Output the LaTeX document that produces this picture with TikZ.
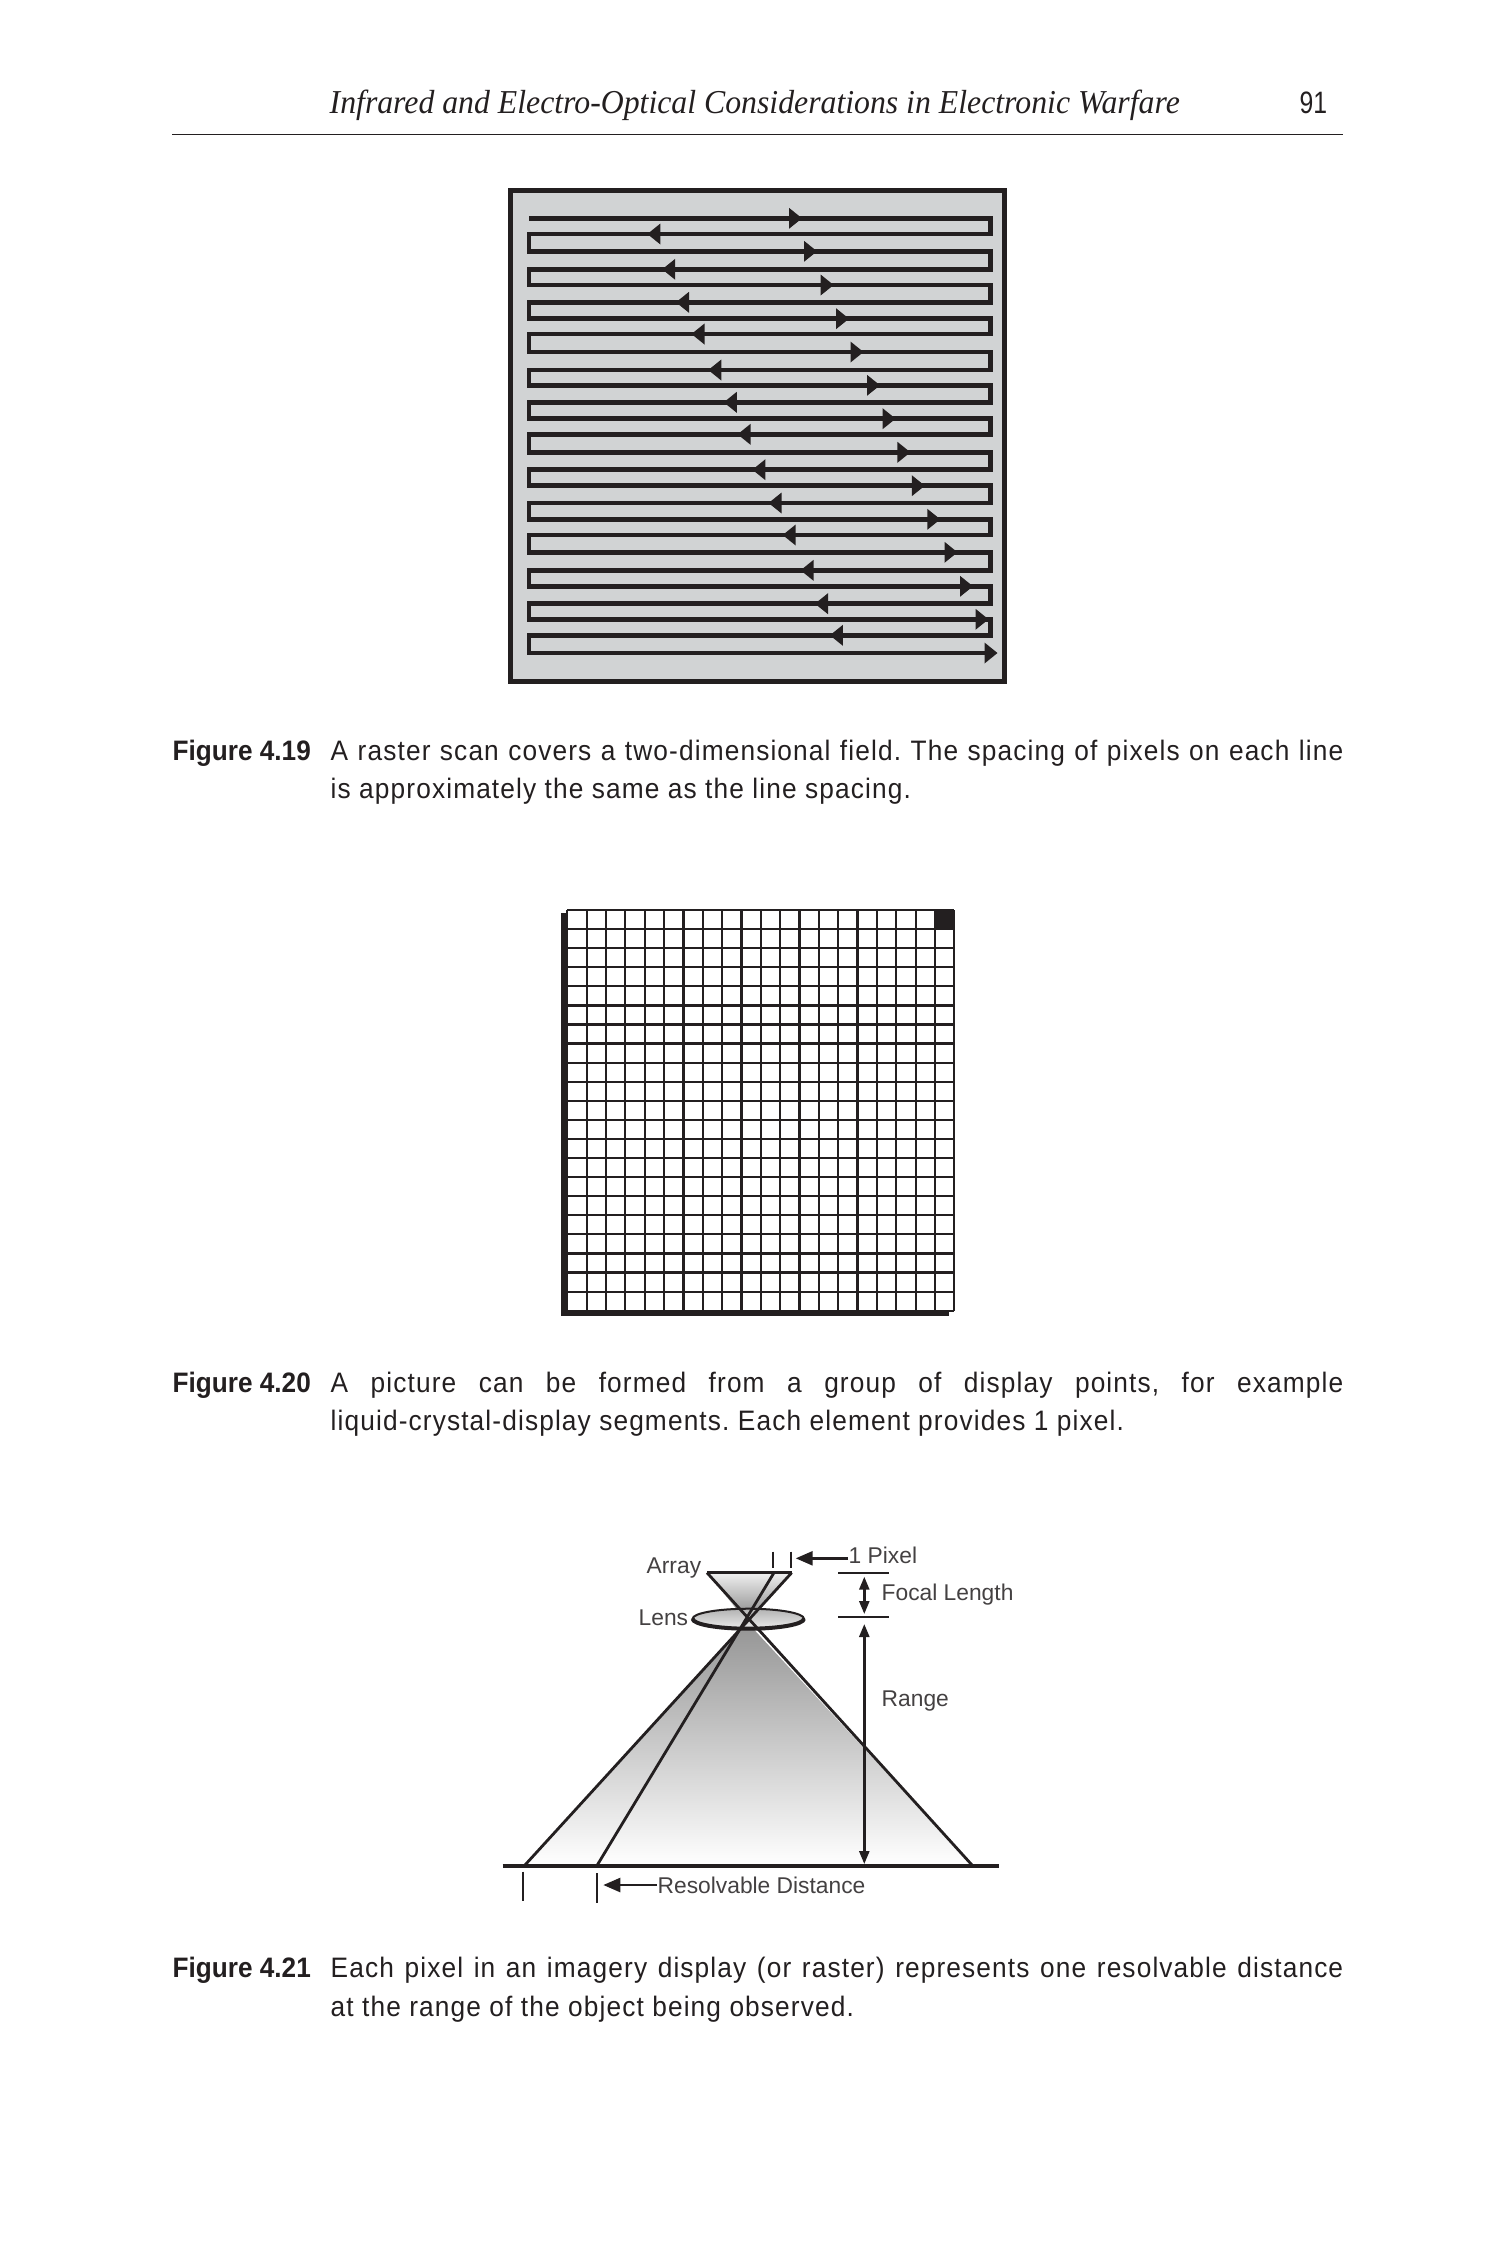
\documentclass[tikz,border=0pt]{standalone}
\usepackage{fontspec}
\usepackage{xcolor}
\usetikzlibrary{arrows.meta}
\usetikzlibrary{positioning}
\newfontfamily\capfont[FakeStretch=0.934,LetterSpace=4]{Liberation Sans}
\newfontfamily\capboldfont[FakeStretch=0.93]{Liberation Sans}
\newfontfamily\numfont[FakeStretch=0.8]{Liberation Sans}
\newfontfamily\headfont[FakeStretch=0.951]{Liberation Serif}
\newfontfamily\labelfont{Liberation Sans}
\definecolor{inkcol}{HTML}{231F20}
\definecolor{panelcol}{HTML}{D1D3D4}
\tikzset{
  caphead/.style={anchor=base west, inner sep=0pt, text=inkcol, font=\capboldfont\bfseries\fontsize{8}{10}\selectfont},
  captext/.style={anchor=base west, inner sep=0pt, text=inkcol, font=\capfont\frenchspacing\fontsize{8}{10}\selectfont},
  figlabel/.style={anchor=base west, inner sep=0pt, text=inkcol!85, font=\labelfont\fontsize{6.48}{8}\selectfont},
  scanline/.style={draw=inkcol, line width=0.045cm},
  rayline/.style={draw=inkcol, line width=0.028cm},
  dimarrow/.style={draw=inkcol, line width=0.025cm, -{Triangle[length=0.13cm,width=0.1cm]}},
  leadarrow/.style={draw=inkcol, line width=0.025cm, -{Triangle[length=0.17cm,width=0.14cm]}}
}
\newcommand{\capwidth}{10.12cm}
\begin{document}
\begin{tikzpicture}[x=0.01cm,y=-0.01cm]
\useasboundingbox (0,0) rectangle (1500,2250);
% running head
\node[inner sep=0pt, anchor=base west, text=inkcol, font=\headfont\itshape\fontsize{9.5}{11}\selectfont] (head) at (329,113) {Infrared and Electro-Optical Considerations in Electronic Warfare};
\node[inner sep=0pt, anchor=base west, text=inkcol, font=\numfont\fontsize{8.8}{11}\selectfont] (pagenum) at (1299,113) {91};
\draw[inkcol, line width=0.014cm] (172,134.5)--(1343,134.5);
% raster scan
\filldraw[fill=panelcol, draw=inkcol, line width=0.05cm] (510.5,190) rectangle (1004,681);
\draw[scanline] (529,218.3)
  \foreach \ya/\yb/\yc in {218.3/234/251.3, 251.3/269.3/285, 285/302.3/318.7, 318.7/334/352, 352/370/385.3, 385.3/402.3/418.7, 418.7/434.3/452.3, 452.3/469.7/485.7, 485.7/503/519.3, 519.3/535/552.3, 552.3/570.3/586.3, 586.3/603.7/619.3, 619.3/635.3/653}
  { -- (990.6,\ya) -- (990.6,\yb) -- (529,\yb) -- (529,\yc) }
  -- (990,653);
\foreach \y/\t in {218.3/802, 251.3/817, 285/833.6, 318.7/849, 352/863.5, 385.3/880, 418.7/895.6, 452.3/910.4, 485.7/924.8, 519.3/940.3, 552.3/957.5, 586.3/973, 619.3/988.5, 653/997.5}
  \fill[inkcol] (\t,\y) -- ++(-13,-10.5) -- ++(0,21) -- cycle;
\foreach \y/\t in {234/647.4, 269.3/662.2, 302.3/676, 334/691.5, 370/708.3, 402.3/723.8, 434.3/737.6, 469.7/752.4, 503/768.6, 535/782.7, 570.3/800.6, 603.7/815, 635.3/829.9}
  \fill[inkcol] (\t,\y) -- ++(13,-10.5) -- ++(0,21) -- cycle;
\node[caphead] (figa) at (172,760) {Figure 4.19};
\node[captext] (capa) at (330,760) {\makebox[\capwidth][s]{A raster scan covers a two-dimensional field. The spacing of pixels on each line}};
\node[captext] (capb) at (330,798) {is approximately the same as the line spacing.};
% pixel grid
\fill[inkcol] (560.7,913) rectangle (568,1315.7);
\fill[inkcol] (560.7,1310.7) rectangle (949,1315.7);
\fill[white] (567.3,910) rectangle (954.3,1310.7);
\fill[inkcol] (934.9,910) rectangle (954.3,929);
\foreach \i in {0,...,20}
  \draw[inkcol, line width=0.022cm] ({567.3+\i*19.35},910)--({567.3+\i*19.35},1310.7);
\foreach \i in {0,...,21}
  \draw[inkcol, line width=0.022cm] (567.3,{910+\i*19.08})--(954.3,{910+\i*19.08});
\node[caphead] (figb) at (172,1392) {Figure 4.20};
\node[captext] (capc) at (330,1392) {\makebox[\capwidth][s]{A picture can be formed from a group of display points, for example}};
\node[captext] (capd) at (330,1430) {liquid-crystal-display segments. Each element provides 1 pixel.};
% imaging geometry
\coordinate (arrayl) at (707,1572.7);
\coordinate (arrayr) at (791.7,1572.7);
\coordinate (arraym) at (774,1572.7);
\coordinate (cross) at (747,1622);
\coordinate (groundl) at (525,1865);
\coordinate (groundm) at (597.3,1865);
\coordinate (groundr) at (972,1865);
\shade[top color=black!42, bottom color=white] (cross) -- (groundr) -- (groundl) -- cycle;
\shade[top color=black!6, bottom color=black!50] (arrayl) -- (arrayr) -- (cross) -- cycle;
\shade[top color=black!30, bottom color=black!8, draw=inkcol, line width=0.02cm] (748.3,1618.7) ellipse [x radius=55.7, y radius=10];
\draw[inkcol, line width=0.04cm] (692.6,1618.7) arc [start angle=180, end angle=0, x radius=55.7, y radius=10];
\draw[rayline] (arrayl) -- (groundr);
\draw[rayline] (arrayr) -- (groundl);
\draw[rayline] (arraym) -- (groundm);
\draw[rayline] (arrayl) -- (arrayr);
\draw[inkcol, line width=0.04cm] (502.7,1866.3) -- (999,1866.3);
% ticks and dimensions
\draw[inkcol, line width=0.02cm] (772.7,1551.7)--(772.7,1568.3);
\draw[inkcol, line width=0.02cm] (791,1551.7)--(791,1568.3);
\draw[inkcol, line width=0.02cm] (523.3,1871.7)--(523.3,1901);
\draw[inkcol, line width=0.02cm] (597.3,1873)--(597.3,1902.7);
\draw[inkcol, line width=0.02cm] (838,1572.7)--(889,1572.7);
\draw[inkcol, line width=0.02cm] (838,1617.3)--(889,1617.3);
\node[figlabel] (arraylabel) at (646,1573.3) {Array};
\node[figlabel] (lenslabel) at (638,1625.7) {Lens};
\node[figlabel] (pixel) at (848,1563.3) {1 Pixel};
\node[figlabel] (focal) at (881,1600.7) {Focal Length};
\node[figlabel] (range) at (881,1706.7) {Range};
\node[figlabel] (resolv) at (657,1893.3) {Resolvable Distance};
\coordinate (pixtip) at (795.7,1558.3);
\coordinate (restip) at (603.3,1885);
\coordinate (focala) at (864.3,1576.7);
\coordinate (focalb) at (864.3,1614);
\coordinate (rangea) at (864.3,1624);
\coordinate (rangeb) at (864.3,1864);
\draw[leadarrow] (pixel.west |- pixtip) -- (pixtip);
\draw[leadarrow] (resolv.west |- restip) -- (restip);
\draw[dimarrow, {Triangle[length=0.13cm,width=0.1cm]}-{Triangle[length=0.13cm,width=0.1cm]}] (focala) -- (focalb);
\draw[dimarrow, {Triangle[length=0.13cm,width=0.1cm]}-{Triangle[length=0.13cm,width=0.1cm]}] (rangea) -- (rangeb);
\node[caphead] (figc) at (172,1977.5) {Figure 4.21};
\node[captext] (cape) at (330,1977.5) {\makebox[\capwidth][s]{Each pixel in an imagery display (or raster) represents one resolvable distance}};
\node[captext] (capf) at (330,2016) {at the range of the object being observed.};
\end{tikzpicture}
\end{document}
